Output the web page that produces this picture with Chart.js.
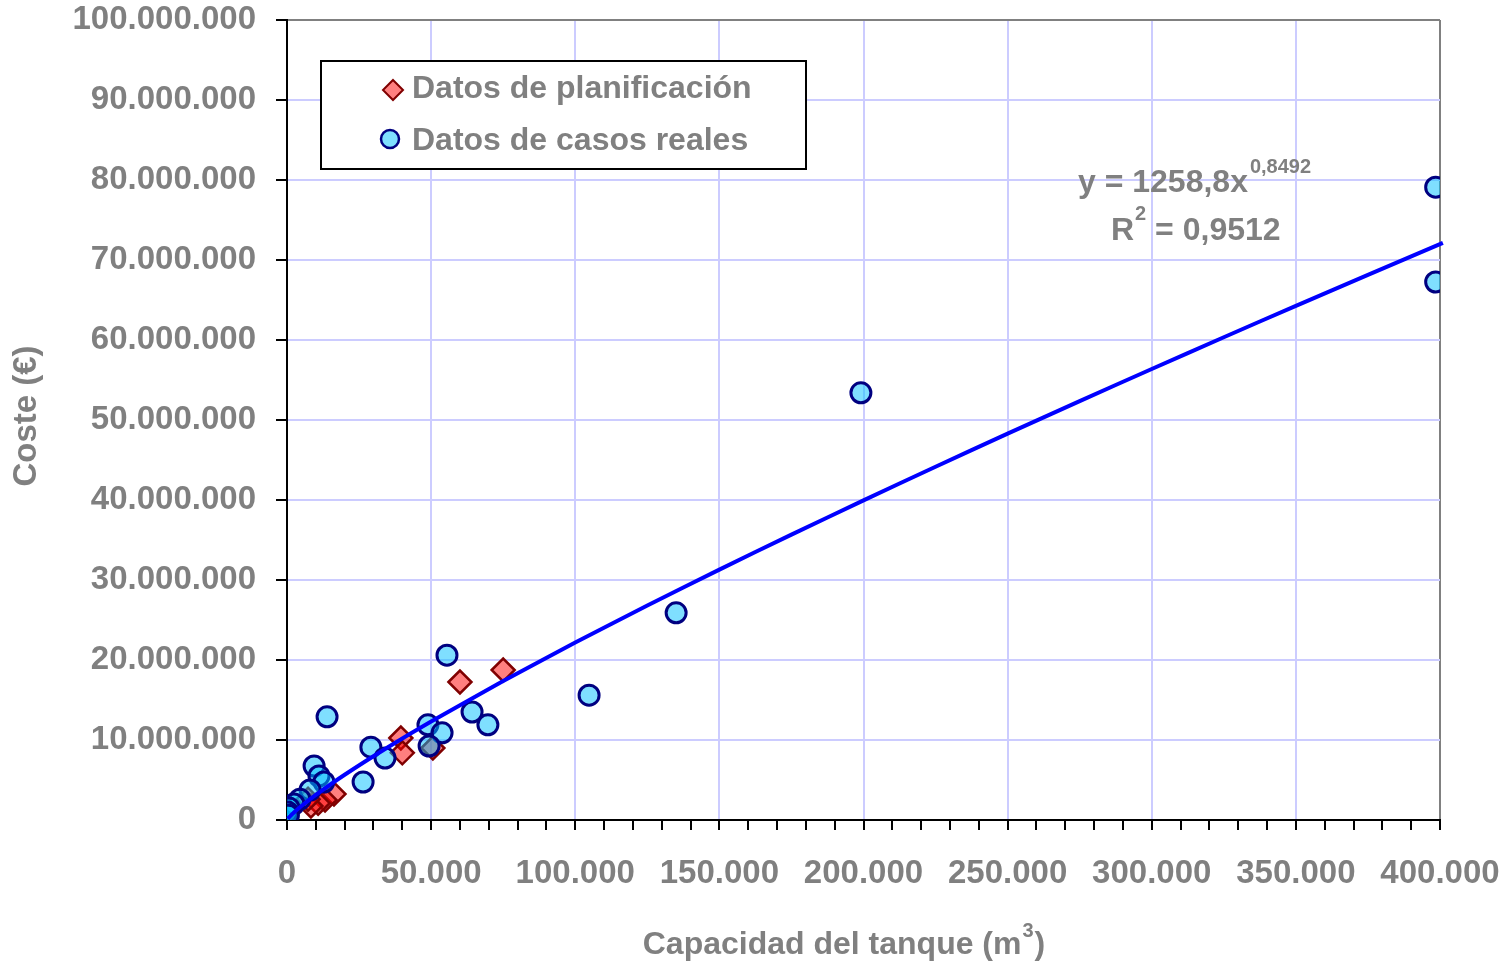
<!DOCTYPE html>
<html>
<head>
<meta charset="utf-8">
<title>Coste vs capacidad del tanque</title>
<script src="https://cdn.jsdelivr.net/npm/chart.js@4.4.1/dist/chart.umd.min.js"></script>
<style>
  html, body { margin: 0; padding: 0; background: #ffffff; }
  #wrap { position: relative; width: 1507px; height: 965px; }
</style>
</head>
<body>
<div id="wrap"><canvas id="c" width="1507" height="965"></canvas></div>
<script>
// Planning data (m3, EUR)
const planX = [75000, 60000, 39500, 40000, 50600, 16300, 13200, 10800, 8300, 7300];
const planY = [18750000, 17250000, 10250000, 8400000, 9000000, 3250000, 2500000, 2100000, 1750000, 2600000];

// Real cases (m3, EUR)
const realX = [398500, 398500, 199100, 135000, 104800, 55500, 13900, 48900, 53800, 64200, 69700,
               49300, 29100, 34000, 26400, 9400, 11100, 12800, 8000, 4500, 2400, 700, 200, 500];
const realY = [79100000, 67250000, 53400000, 25900000, 15600000, 20600000, 12900000, 11900000, 10900000,
               13500000, 11900000, 9250000, 9100000, 7750000, 4750000, 6750000, 5500000, 4750000,
               3750000, 2600000, 2000000, 1500000, 1000000, 600000];

// Power-law fit y = a * x^b
const fitA = 1258.8;
const fitB = 0.8492;
const fitR2 = 0.9512;
const trendX = [300, 1000, 2500, 5000, 10000, 20000, 35000, 50000, 75000, 100000, 125000, 150000,
                175000, 200000, 225000, 250000, 275000, 300000, 325000, 350000, 375000, 401000];
const trendY = trendX.map(x => fitA * Math.pow(x, fitB));

// Axis ranges and tick steps
const xMax = 400000, xMinorStep = 10000, xLabelStep = 50000;
const yMax = 100000000, yStep = 10000000;

const FONT = '"Liberation Sans", Arial, sans-serif';
const GREY = '#808080';
const GRID = '#CCCCFF';

const fmtThousands = v => String(Math.round(v)).replace(/\B(?=(\d{3})+(?!\d))/g, '.');
const fmtDec = (v, d) => v.toFixed(d).replace('.', ',');

const pts = (xs, ys) => xs.map((x, i) => ({ x: x, y: ys[i] }));

// Scales keep no extra edge padding so the plot box is set by the layout padding
const noEdgePadding = s => {
  s.paddingTop = 0; s.paddingBottom = 0; s.paddingLeft = 0; s.paddingRight = 0;
};

// Legend box, fit equation and axis titles drawn on top of the chart
const overlay = {
  id: 'overlay',
  afterDraw(chart) {
    const ctx = chart.ctx;
    const a = chart.chartArea;
    ctx.save();

    // legend box
    const bx = a.left + 34, by = a.top + 41, bw = 485, bh = 108;
    ctx.fillStyle = '#ffffff';
    ctx.fillRect(bx, by, bw, bh);
    ctx.strokeStyle = '#000000';
    ctx.lineWidth = 2;
    ctx.strokeRect(bx, by, bw, bh);

    const ds = chart.data.datasets;
    ctx.font = 'bold 32px ' + FONT;
    ctx.textBaseline = 'middle';
    ctx.textAlign = 'left';

    // diamond marker
    const dx = bx + 72, dy = by + 29;
    ctx.beginPath();
    ctx.moveTo(dx, dy - 10); ctx.lineTo(dx + 10, dy); ctx.lineTo(dx, dy + 10); ctx.lineTo(dx - 10, dy); ctx.closePath();
    ctx.fillStyle = '#FF8080'; ctx.fill();
    ctx.strokeStyle = '#800000'; ctx.lineWidth = 2; ctx.stroke();
    ctx.fillStyle = GREY;
    ctx.fillText(ds[2].label, bx + 91, by + 28);

    // circle marker
    const cx = bx + 69, cy = by + 78;
    ctx.beginPath();
    ctx.arc(cx, cy, 9, 0, Math.PI * 2);
    ctx.fillStyle = '#80E0FF'; ctx.fill();
    ctx.strokeStyle = '#000080'; ctx.lineWidth = 2.5; ctx.stroke();
    ctx.fillStyle = GREY;
    ctx.fillText(ds[1].label, bx + 91, by + 80);

    // fit equation
    ctx.fillStyle = GREY;
    ctx.font = 'bold 32px ' + FONT;
    const eq1 = 'y = ' + fmtDec(fitA, 1) + 'x';
    let ex = 1078, ey = 183;
    ctx.fillText(eq1, ex, ey);
    ex += ctx.measureText(eq1).width + 2;
    ctx.font = 'bold 20px ' + FONT;
    ctx.fillText(fmtDec(fitB, 4), ex, ey - 16);

    ctx.font = 'bold 32px ' + FONT;
    let rx = 1111, ry = 231;
    ctx.fillText('R', rx, ry);
    rx += ctx.measureText('R').width + 1;
    ctx.font = 'bold 20px ' + FONT;
    ctx.fillText('2', rx, ry - 17);
    rx += ctx.measureText('2').width;
    ctx.font = 'bold 32px ' + FONT;
    ctx.fillText(' = ' + fmtDec(fitR2, 4), rx, ry);

    // x axis title with superscript
    const t1 = 'Capacidad del tanque (m', t3 = ')';
    ctx.font = 'bold 20px ' + FONT;
    const w2 = ctx.measureText('3').width;
    ctx.font = 'bold 32px ' + FONT;
    const w1 = ctx.measureText(t1).width, w3 = ctx.measureText(t3).width;
    let tx = 844 - (w1 + w2 + w3 + 2) / 2, ty = 945;
    ctx.fillText(t1, tx, ty);
    tx += w1 + 1;
    ctx.font = 'bold 20px ' + FONT;
    ctx.fillText('3', tx, ty - 14);
    tx += w2 + 1;
    ctx.font = 'bold 32px ' + FONT;
    ctx.fillText(t3, tx, ty);

    // y axis title
    ctx.translate(27, 416);
    ctx.rotate(-Math.PI / 2);
    ctx.textAlign = 'center';
    ctx.font = 'bold 33px ' + FONT;
    ctx.fillText('Coste (\u20AC)', 0, 0);

    ctx.restore();
  }
};

new Chart(document.getElementById('c'), {
  type: 'scatter',
  data: {
    datasets: [
      {
        type: 'line',
        label: 'Tendencia',
        data: pts(trendX, trendY),
        borderColor: '#0000FF',
        borderWidth: 4,
        pointRadius: 0,
        tension: 0.2,
        fill: false,
        clip: false,
        order: 0
      },
      {
        label: 'Datos de casos reales',
        data: pts(realX, realY),
        pointStyle: 'circle',
        pointRadius: 10,
        backgroundColor: 'rgba(0,192,255,0.5)',
        borderColor: '#000080',
        borderWidth: 3,
        order: 1
      },
      {
        label: 'Datos de planificación',
        data: pts(planX, planY),
        pointStyle: 'rectRot',
        pointRadius: 11.5,
        backgroundColor: 'rgba(255,0,0,0.5)',
        borderColor: '#800000',
        borderWidth: 2.5,
        order: 2
      }
    ]
  },
  options: {
    responsive: false,
    animation: false,
    layout: { padding: { top: 20, right: 67, left: 0, bottom: 0 } },
    plugins: { legend: { display: false }, tooltip: { enabled: false } },
    scales: {
      x: {
        type: 'linear',
        min: 0,
        max: xMax,
        afterFit: s => { s.height = 145; noEdgePadding(s); },
        ticks: {
          stepSize: xMinorStep,
          autoSkip: false,
          maxRotation: 0,
          padding: 24,
          color: GREY,
          font: { family: FONT, size: 33, weight: 'bold' },
          callback: v => (v % xLabelStep === 0 ? fmtThousands(v) : '')
        },
        grid: {
          color: c => {
            const v = c.tick ? c.tick.value : 0;
            if (v === xMax) return GREY;
            if (v > 0 && v % xLabelStep === 0) return GRID;
            return 'rgba(0,0,0,0)';
          },
          lineWidth: 2,
          tickColor: '#000000',
          tickLength: 10,
          tickWidth: 2
        },
        border: { color: '#000000', width: 2 }
      },
      y: {
        min: 0,
        max: yMax,
        afterFit: s => { s.width = 287; noEdgePadding(s); },
        ticks: {
          stepSize: yStep,
          padding: 20,
          color: GREY,
          font: { family: FONT, size: 33, weight: 'bold' },
          callback: v => fmtThousands(v)
        },
        grid: {
          color: c => (c.tick && c.tick.value === yMax ? GREY : GRID),
          lineWidth: 2,
          tickColor: '#000000',
          tickLength: 11,
          tickWidth: 2
        },
        border: { color: '#000000', width: 2 }
      }
    }
  },
  plugins: [overlay]
});
</script>
</body>
</html>
